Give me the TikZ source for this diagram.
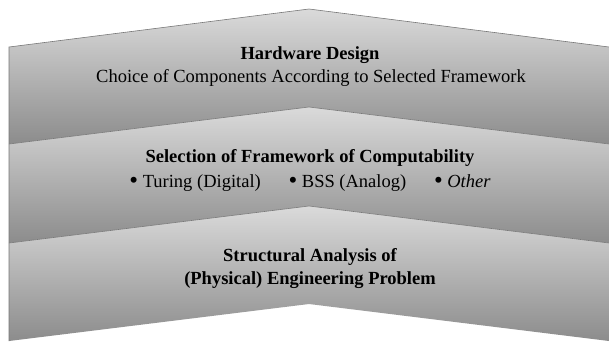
\documentclass[tikz,border=0pt]{standalone}
\usepackage{fontspec}
\usepackage{graphicx}
\setmainfont{Liberation Serif}
\definecolor{bandtop}{RGB}{218,218,218}
\definecolor{bandbot}{RGB}{140,140,140}
\definecolor{bandedge}{RGB}{120,120,120}
\newcommand{\mybul}{\raisebox{-0.1em}{\scalebox{1.35}{•}}}
\begin{document}
\begin{tikzpicture}[x=1pt,y=-1pt,
  band/.style={top color=bandtop,bottom color=bandbot},
  edge/.style={draw=bandedge,line width=0.6pt},
  ttl/.style={font=\fontsize{18.5}{22}\selectfont\bfseries,inner sep=0pt},
  sub/.style={font=\fontsize{18.5}{22}\selectfont,inner sep=0pt}]
\useasboundingbox (0,0) rectangle (609,341);
% bands
\path[band] (9,47) -- (309,9) -- (609,47) -- (609,144) -- (309,107) -- (9,144) -- cycle;
\path[band] (9,144) -- (309,107) -- (609,144) -- (609,243) -- (309,206) -- (9,243) -- cycle;
\path[band] (9,243) -- (309,206) -- (609,243) -- (609,341) -- (309,304) -- (9,341) -- cycle;
% edges
\draw[edge] (9,341) -- (9,47) -- (309,9) -- (609,47);
\draw[edge] (9,144) -- (309,107) -- (609,144);
\draw[edge] (9,243) -- (309,206) -- (609,243);
% texts
\node[ttl] (hw) at (310,55) {Hardware Design};
\node[sub] (hwsub) at (311,78) {Choice of Components According to Selected Framework};
\node[ttl] (sel) at (310,158) {Selection of Framework of Computability};
\node[sub,anchor=base] (selsub) at (310,187) {\mybul\ Turing (Digital)\hspace{1.5em}\mybul\ BSS (Analog)\hspace{1.5em}\mybul\ \textit{Other}};
\node[ttl] (sa1) at (310,257) {Structural Analysis of};
\node[ttl] (sa2) at (310,280) {(Physical) Engineering Problem};
\end{tikzpicture}
\end{document}
